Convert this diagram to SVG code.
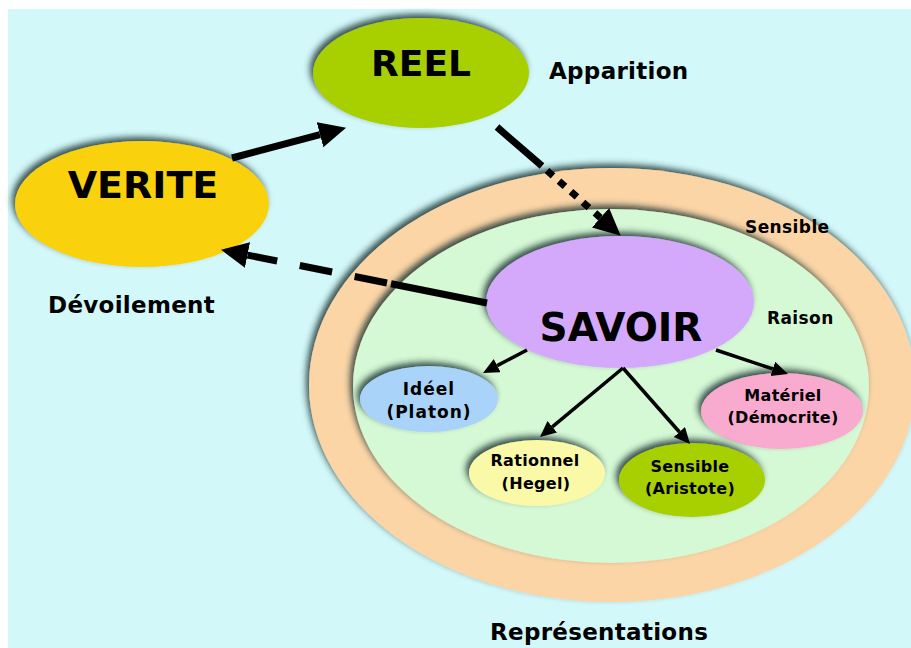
<svg xmlns="http://www.w3.org/2000/svg" width="911" height="648" viewBox="0 0 911 648">
  <defs>
    <style>
      text { font-family: "DejaVu Sans", Verdana, "Liberation Sans", sans-serif; font-weight: bold; fill: #000; text-anchor: middle; }
      .big { font-size: 38px; }
      .label { font-size: 23px; letter-spacing: 0.3px; text-anchor: start; }
      .zone { font-size: 17px; letter-spacing: 0.4px; text-anchor: start; }
      .small { font-size: 16px; letter-spacing: 0.3px; }
      .wide { font-size: 17px; letter-spacing: 1px; }
      .thick { fill: none; stroke: #000; stroke-width: 7; }
      .thin { fill: none; stroke: #000; stroke-width: 3.5; }
    </style>
    <filter id="shade" x="-20%" y="-20%" width="140%" height="140%">
      <feGaussianBlur in="SourceAlpha" stdDeviation="3" result="b"/>
      <feOffset in="b" dx="-3" dy="-4" result="o"/>
      <feFlood flood-color="#1c3434" flood-opacity="0.85"/>
      <feComposite in2="o" operator="in" result="s"/>
      <feMerge>
        <feMergeNode in="s"/>
        <feMergeNode in="SourceGraphic"/>
      </feMerge>
    </filter>
    <marker id="bigHead" markerUnits="userSpaceOnUse" markerWidth="30" markerHeight="28" refX="0" refY="13" orient="auto">
      <path d="M0,0 L27,13 L0,26 Z" fill="#000"/>
    </marker>
    <marker id="smallHead" markerUnits="userSpaceOnUse" markerWidth="18" markerHeight="16" refX="0" refY="7.5" orient="auto">
      <path d="M0,0 L16,7.5 L0,15 Z" fill="#000"/>
    </marker>
  </defs>

  <!-- page background -->
  <rect x="0" y="0" width="911" height="648" fill="#ffffff"/>
  <rect x="8" y="9" width="903" height="639" fill="#d3f8f9"/>

  <!-- nested regions: Sensible (outer ring) and Raison (inner area) -->
  <g id="zone-sensible">
    <ellipse cx="612" cy="385" rx="303" ry="217" fill="#fbd5a6" filter="url(#shade)"/>
    <text class="zone" x="745" y="233">Sensible</text>
  </g>
  <g id="zone-raison">
    <ellipse cx="611" cy="386" rx="258" ry="177" fill="#d5f8d5" filter="url(#shade)"/>
    <text class="zone" x="767" y="324">Raison</text>
  </g>

  <!-- main concepts -->
  <g id="node-reel">
    <ellipse cx="421" cy="73" rx="108" ry="55" fill="#a8cf00" filter="url(#shade)"/>
    <text class="big" x="421" y="76" style="font-size:36px">REEL</text>
  </g>
  <g id="node-verite">
    <ellipse cx="142" cy="204" rx="127" ry="63" fill="#f9d20a" filter="url(#shade)"/>
    <text class="big" x="143" y="198">VERITE</text>
  </g>
  <g id="node-savoir">
    <ellipse cx="620" cy="302" rx="134" ry="66" fill="#d4a9fc" filter="url(#shade)"/>
    <text class="big" x="621" y="341" style="font-size:39px">SAVOIR</text>
  </g>

  <!-- kinds of knowledge -->
  <g id="node-ideel">
    <ellipse cx="429" cy="399" rx="69" ry="33" fill="#a9d3f9" filter="url(#shade)"/>
    <text class="wide" x="429" y="395">Idéel</text>
    <text class="wide" x="429" y="418">(Platon)</text>
  </g>
  <g id="node-materiel">
    <ellipse cx="782" cy="411" rx="81" ry="38" fill="#f9aacf" filter="url(#shade)"/>
    <text class="small" x="783" y="401">Matériel</text>
    <text class="small" x="783" y="423">(Démocrite)</text>
  </g>
  <g id="node-rationnel">
    <ellipse cx="537" cy="473" rx="68" ry="33" fill="#faf9a8" filter="url(#shade)"/>
    <text class="small" x="535" y="466">Rationnel</text>
    <text class="small" x="536" y="489">(Hegel)</text>
  </g>
  <g id="node-sensible">
    <ellipse cx="692" cy="480" rx="73" ry="37" fill="#a8cf00" filter="url(#shade)"/>
    <text class="small" x="690" y="472">Sensible</text>
    <text class="small" x="690" y="494">(Aristote)</text>
  </g>

  <!-- free labels -->
  <g id="labels">
    <text class="label" x="549" y="79">Apparition</text>
    <text class="label" x="48" y="313">Dévoilement</text>
    <text class="label" x="490" y="640">Représentations</text>
  </g>

  <!-- connectors -->
  <g id="connectors">
    <!-- VERITE to REEL -->
    <path class="thick" d="M232,158 L320,134.7" marker-end="url(#bigHead)"/>
    <!-- REEL to SAVOIR: solid, then dotted through the ring -->
    <path class="thick" d="M497,127 L542,166"/>
    <path class="thick" d="M547,170.5 L600.5,217.8" stroke-dasharray="8 8" marker-end="url(#bigHead)"/>
    <!-- SAVOIR back to VERITE: solid, then dashed -->
    <path class="thick" d="M487,303 L391,283.8"/>
    <path class="thick" d="M387,283 L247.5,255.1" stroke-dasharray="33 23" marker-end="url(#bigHead)"/>
    <!-- SAVOIR to its four kinds -->
    <path class="thin" d="M527,350 L497.2,365.6" marker-end="url(#smallHead)"/>
    <path class="thin" d="M716,350 L772.8,368.9" marker-end="url(#smallHead)"/>
    <path class="thin" d="M623,368 L552.3,426.8" marker-end="url(#smallHead)"/>
    <path class="thin" d="M623,368 L679.4,432" marker-end="url(#smallHead)"/>
  </g>
</svg>
